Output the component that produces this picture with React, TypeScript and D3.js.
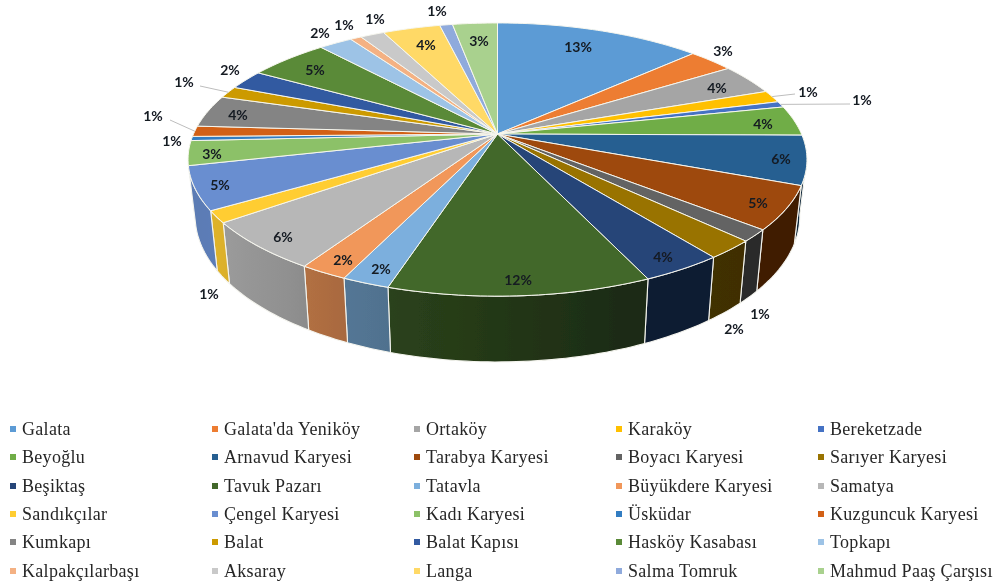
import React from "react";
import * as d3 from "d3";

// ---------- data ----------
const categories = [
  "Galata", "Galata'da Yeniköy", "Ortaköy", "Karaköy", "Bereketzade",
  "Beyoğlu", "Arnavud Karyesi", "Tarabya Karyesi", "Boyacı Karyesi", "Sarıyer Karyesi",
  "Beşiktaş", "Tavuk Pazarı", "Tatavla", "Büyükdere Karyesi", "Samatya",
  "Sandıkçılar", "Çengel Karyesi", "Kadı Karyesi", "Üsküdar", "Kuzguncuk Karyesi",
  "Kumkapı", "Balat", "Balat Kapısı", "Hasköy Kasabası", "Topkapı",
  "Kalpakçılarbaşı", "Aksaray", "Langa", "Salma Tomruk", "Mahmud Paaş Çarşısı",
];
const shares = [
  12.9, 2.85, 3.65, 1.45, 0.7,
  3.55, 5.8, 5.1, 1.4, 2.2,
  3.6, 11.5, 2.1, 2.1, 5.8,
  1.4, 5.1, 2.9, 0.5, 1.25,
  3.8, 1.4, 2.3, 5.0, 2.1,
  0.7, 1.5, 3.6, 0.8, 2.8,
];
const percentLabels = [
  "13%", "3%", "4%", "1%", "1%",
  "4%", "6%", "5%", "1%", "2%",
  "4%", "12%", "2%", "2%", "6%",
  "1%", "5%", "3%", "1%", "1%",
  "4%", "1%", "2%", "5%", "2%",
  "1%", "1%", "4%", "1%", "3%",
];
const colors = [
  "#5b9bd5", "#ed7d31", "#a5a5a5", "#ffc000", "#4472c4",
  "#70ad47", "#255e91", "#9e480e", "#636363", "#997300",
  "#264478", "#43682b", "#7cafdd", "#f1975a", "#b7b7b7",
  "#ffcd33", "#698ed0", "#8cc168", "#327dc2", "#d26012",
  "#848484", "#cc9a00", "#335aa1", "#5a8a39", "#9dc3e6",
  "#f4b183", "#c9c9c9", "#ffd966", "#8faadc", "#a9d18e",
];

// ---------- layout (not data) ----------
const labelSpots: [number, number][] = [
  [578, 46], [723, 50], [717, 87], [808, 91], [862, 99],
  [763, 123], [781, 158], [758, 202], [760, 313], [734, 328],
  [663, 256], [518, 279], [381, 268], [343, 259], [283, 236],
  [209, 293], [220, 184], [212, 153], [172, 140], [153, 115],
  [238, 114], [184, 81], [230, 69], [315, 69], [320, 32],
  [344, 24], [375, 18], [426, 44], [437, 10], [479, 40],
];
// slice index -> end of its leader line
const leaders: Record<number, [number, number]> = {
  3: [795, 94],
  4: [850, 104],
  19: [170, 120],
  21: [200, 86],
};
const legendColumns = [13, 215, 417, 619, 821];
const legendRows = [429, 457, 486, 514, 542, 571];

const cx = 497.5;
const cy = 134;
const persp = 0.187;
const topA = 304;
const topB = 131.8;
const wallA = 297;
const wallB = 140.6;
const wallCy = 189;
// the wall is only seen between the two tangent points of the rim
const wallFrom = (100 / 180) * Math.PI;
const wallTo = (256.6 / 180) * Math.PI;

const project = (theta: number, r = 1, a = topA, b = topB, y0 = cy): [number, number] => {
  const s = Math.sin(theta);
  const c = Math.cos(theta);
  const w = 1 + persp * r * c;
  return [cx + (a * r * s) / w, y0 - (b * r * c) / w];
};
const projectWall = (theta: number) => project(theta, 1, wallA, wallB, wallCy);

const shade = d3
  .scaleLinear()
  .domain([100, 160, 200, 215, 240, 275])
  .range([0.4, 0.42, 0.66, 0.78, 0.88, 0.85])
  .clamp(true);

const darken = (hex: string, f: number) => {
  const c = d3.rgb(hex);
  return d3.rgb(c.r * f, c.g * f, c.b * f).formatHex();
};

const arcs = d3
  .pie<number>()
  .sort(null)
  .startAngle(0)
  .endAngle(2 * Math.PI)(shares);

const samples = (a0: number, a1: number) => {
  const n = Math.max(2, Math.ceil((a1 - a0) / 0.02));
  return d3.range(n + 1).map((i) => a0 + ((a1 - a0) * i) / n);
};
const line = d3.line<[number, number]>();

export default function App() {
  const deg = (t: number) => (t * 180) / Math.PI;
  return (
    <svg
      width={1000}
      height={585}
      style={{ position: "absolute", left: 0, top: 0, background: "#fff" }}
    >
      <defs>
        <filter id="soft" x="0" y="0" width="100%" height="100%">
          <feGaussianBlur stdDeviation="0.4" />
        </filter>
        {arcs.map((d, i) => {
          const ts = samples(d.startAngle, d.endAngle);
          const x1 = projectWall(d.startAngle)[0];
          const x2 = projectWall(d.endAngle)[0];
          return (
            <linearGradient
              key={i}
              id={`wall${i}`}
              gradientUnits="userSpaceOnUse"
              x1={x1}
              x2={x2 === x1 ? x1 + 1 : x2}
              y1={0}
              y2={0}
            >
              {ts.filter((_, j) => j % 4 === 0).map((t, j, all) => (
                <stop
                  key={j}
                  offset={all.length > 1 ? j / (all.length - 1) : 0}
                  stopColor={darken(colors[i], shade(deg(t)))}
                />
              ))}
            </linearGradient>
          );
        })}
      </defs>
      <g filter="url(#soft)">
        {/* side walls */}
        {arcs.map((d, i) => {
          const a0 = Math.max(d.startAngle, wallFrom);
          const a1 = Math.min(d.endAngle, wallTo);
          if (a1 <= a0) return null;
          const ts = samples(a0, a1);
          const pts = [...ts.map((t) => project(t)), ...ts.slice().reverse().map(projectWall)];
          return (
            <path
              key={i}
              d={line(pts) + "Z"}
              fill={`url(#wall${i})`}
              stroke="#f4f4ee"
              strokeWidth={1.1}
              strokeLinejoin="round"
            />
          );
        })}
        {/* top faces */}
        {arcs.map((d, i) => {
          const ts = samples(d.startAngle, d.endAngle);
          const pts: [number, number][] = [[cx, cy], ...ts.map((t) => project(t))];
          return (
            <path
              key={i}
              d={line(pts) + "Z"}
              fill={colors[i]}
              stroke="#f6f6ee"
              strokeWidth={1}
              strokeLinejoin="round"
            />
          );
        })}
        {/* leader lines */}
        {Object.entries(leaders).map(([k, end]) => {
          const d = arcs[+k];
          const start = project((d.startAngle + d.endAngle) / 2);
          return (
            <line
              key={k}
              x1={start[0]}
              y1={start[1]}
              x2={end[0]}
              y2={end[1]}
              stroke="#bdbdbd"
              strokeWidth={1}
            />
          );
        })}
        {/* data labels */}
        {percentLabels.map((t, i) => (
          <text
            key={i}
            x={labelSpots[i][0]}
            y={labelSpots[i][1]}
            textAnchor="middle"
            dominantBaseline="central"
            fontFamily="Lato, 'Open Sans', sans-serif"
            fontWeight={700}
            fontSize={14}
            fill="#141a22"
          >
            {t}
          </text>
        ))}
        {/* legend */}
        {categories.map((name, i) => {
          const col = legendColumns[i % 5];
          const row = legendRows[Math.floor(i / 5)];
          return (
            <g key={name}>
              <rect x={col - 3} y={row - 3} width={6} height={6} fill={colors[i]} />
              <text
                x={col + 9}
                y={row}
                dominantBaseline="central"
                fontFamily="'Liberation Serif', serif"
                fontSize={18}
                letterSpacing={0.3}
                fill="#262626"
              >
                {name}
              </text>
            </g>
          );
        })}
      </g>
    </svg>
  );
}
